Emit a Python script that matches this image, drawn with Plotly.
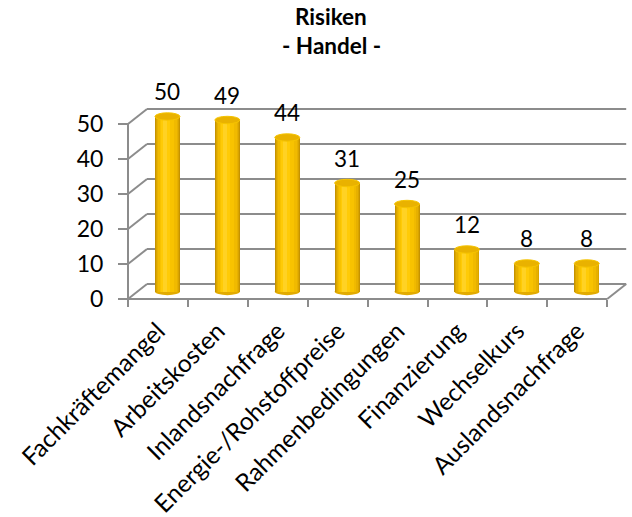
import plotly.graph_objects as go

# ---- data -------------------------------------------------------------
categories = ["Fachkräftemangel", "Arbeitskosten", "Inlandsnachfrage",
              "Energie-/Rohstoffpreise", "Rahmenbedingungen", "Finanzierung",
              "Wechselkurs", "Auslandsnachfrage"]
values = [50, 49, 44, 31, 25, 12, 8, 8]
y_ticks = [0, 10, 20, 30, 40, 50]
title_lines = ["Risiken", "- Handel -"]

# ---- style / geometry -------------------------------------------------
W, H = 632, 517
FONT = "Lato"
GRID = "#8c8c8c"
FRONT_LEFT = 128.0      # x pixel of the front value axis
FRONT_BASE = 299.0      # y pixel of the front floor edge
CAT_PX = 59.9           # pixel width of one category
UNIT_PX = 3.5           # pixels per value unit
DEPTH_X = 19.0          # front -> back shift (x)
DEPTH_Y = 15.0          # front -> back shift (y)
BAR_W = 25 / CAT_PX     # cylinder diameter in category units
CAP_H = 3.7 / UNIT_PX   # half height of the elliptic caps

n = len(categories)
idx = list(range(n))
hx = DEPTH_X / 2 / CAT_PX
hy = DEPTH_Y / 2 / UNIT_PX

# bars live on the mid-depth plane
mid_first = FRONT_LEFT + DEPTH_X / 2 + CAT_PX / 2
x_range = [-mid_first / CAT_PX, (W - mid_first) / CAT_PX]
mid_zero = FRONT_BASE - DEPTH_Y / 2
y_range = [-(H - mid_zero) / UNIT_PX, mid_zero / UNIT_PX]

# the labelled axes sit on the front plane
front_first = FRONT_LEFT + CAT_PX / 2
x2_range = [-front_first / CAT_PX, (W - front_first) / CAT_PX]
y2_range = [-(H - FRONT_BASE) / UNIT_PX, FRONT_BASE / UNIT_PX]

fig = go.Figure()

# cylinder shading: stacked strips, dark rims and a highlight left of centre
strips = [
    (0.00, 1.00, "#c69300"),
    (0.04, 0.97, "#d8a400"),
    (0.08, 0.93, "#e6b000"),
    (0.13, 0.87, "#f0ba00"),
    (0.19, 0.76, "#f8c300"),
    (0.25, 0.60, "#ffcb06"),
    (0.31, 0.48, "#ffd224"),
]
for left_f, right_f, col in strips:
    fig.add_trace(go.Bar(
        x=idx, y=values, base=0,
        width=(right_f - left_f) * BAR_W,
        offset=-BAR_W / 2 + left_f * BAR_W,
        marker=dict(color=col, line=dict(width=0)),
        hoverinfo="skip", showlegend=False,
    ))

shapes = []
grid_line = dict(color=GRID, width=2)
left_edge, right_edge = -0.5, n - 0.5

for v in y_ticks:
    # back wall grid line
    shapes.append(dict(type="line", xref="x", yref="y", layer="below",
                       x0=left_edge + hx, x1=right_edge + hx,
                       y0=v + hy, y1=v + hy, line=grid_line))
    # side wall grid line
    shapes.append(dict(type="line", xref="x", yref="y", layer="below",
                       x0=left_edge - hx, x1=left_edge + hx,
                       y0=v - hy, y1=v + hy, line=grid_line))

# floor: front edge and right edge
shapes.append(dict(type="line", xref="x", yref="y", layer="below",
                   x0=left_edge - hx, x1=right_edge - hx,
                   y0=-hy, y1=-hy, line=grid_line))
shapes.append(dict(type="line", xref="x", yref="y", layer="below",
                   x0=right_edge - hx, x1=right_edge + hx,
                   y0=-hy, y1=hy, line=grid_line))
# front value axis
shapes.append(dict(type="line", xref="x", yref="y", layer="below",
                   x0=left_edge - hx, x1=left_edge - hx,
                   y0=-hy, y1=max(y_ticks) - hy, line=grid_line))

# cylinder bottoms (lower half peeks out below each bar) and tops
for k, v in zip(idx, values):
    shapes.append(dict(type="circle", xref="x", yref="y", layer="below",
                       x0=k - BAR_W / 2, x1=k + BAR_W / 2,
                       y0=-CAP_H, y1=CAP_H,
                       fillcolor="#e2ab00", line=dict(width=0)))
for k, v in zip(idx, values):
    shapes.append(dict(type="circle", xref="x", yref="y", layer="above",
                       x0=k - BAR_W / 2, x1=k + BAR_W / 2,
                       y0=v - CAP_H, y1=v + CAP_H,
                       fillcolor="#e9b200",
                       line=dict(color="#f6c400", width=1)))

annotations = []
for k, v in zip(idx, values):
    annotations.append(dict(x=k, y=v, xref="x", yref="y", text=str(v),
                            showarrow=False, yshift=25, yanchor="middle",
                            font=dict(family=FONT, size=22.5, color="#000")))

# two title lines, set as separate annotations for tight spacing
title_y = [17, 46]
for txt, py in zip(title_lines, title_y):
    annotations.append(dict(x=331 / W, y=1 - py / H, xref="paper", yref="paper",
                            text=f"<b>{txt}</b>", showarrow=False,
                            xanchor="center", yanchor="middle",
                            font=dict(family=FONT, size=22.5, color="#000")))

fig.update_layout(
    width=W, height=H,
    margin=dict(l=0, r=0, t=0, b=0, pad=0),
    paper_bgcolor="white", plot_bgcolor="rgba(0,0,0,0)",
    barmode="overlay", bargap=0,
    showlegend=False,
    shapes=shapes, annotations=annotations,
    xaxis=dict(range=x_range, visible=False, fixedrange=True),
    yaxis=dict(range=y_range, visible=False, fixedrange=True),
    xaxis2=dict(
        overlaying="x", anchor="free", position=1 - FRONT_BASE / H,
        range=x2_range, tickmode="array", tickvals=idx, ticktext=categories,
        tickangle=-45, ticks="outside", ticklen=7, tickcolor="rgba(0,0,0,0)",
        tickfont=dict(family=FONT, size=24.5, color="#000"),
        minor=dict(tickmode="array",
                   tickvals=[k - 0.5 for k in idx] + [n - 0.5],
                   ticks="outside", ticklen=7, tickwidth=2, tickcolor=GRID),
        showgrid=False, zeroline=False, showline=False, fixedrange=True,
    ),
    yaxis2=dict(
        overlaying="y", anchor="free", position=FRONT_LEFT / W, side="left",
        range=y2_range, tickmode="array", tickvals=y_ticks,
        ticks="outside", ticklen=10, tickwidth=2, tickcolor=GRID,
        ticklabelstandoff=10,
        tickfont=dict(family=FONT, size=23, color="#000"),
        showgrid=False, zeroline=False, showline=False, fixedrange=True,
    ),
)

# an empty trace binds the front axes so they are rendered
fig.add_trace(go.Scatter(x=[], y=[], xaxis="x2", yaxis="y2",
                         hoverinfo="skip", showlegend=False))

fig.write_html("out.html", config={"displayModeBar": False, "staticPlot": True})
